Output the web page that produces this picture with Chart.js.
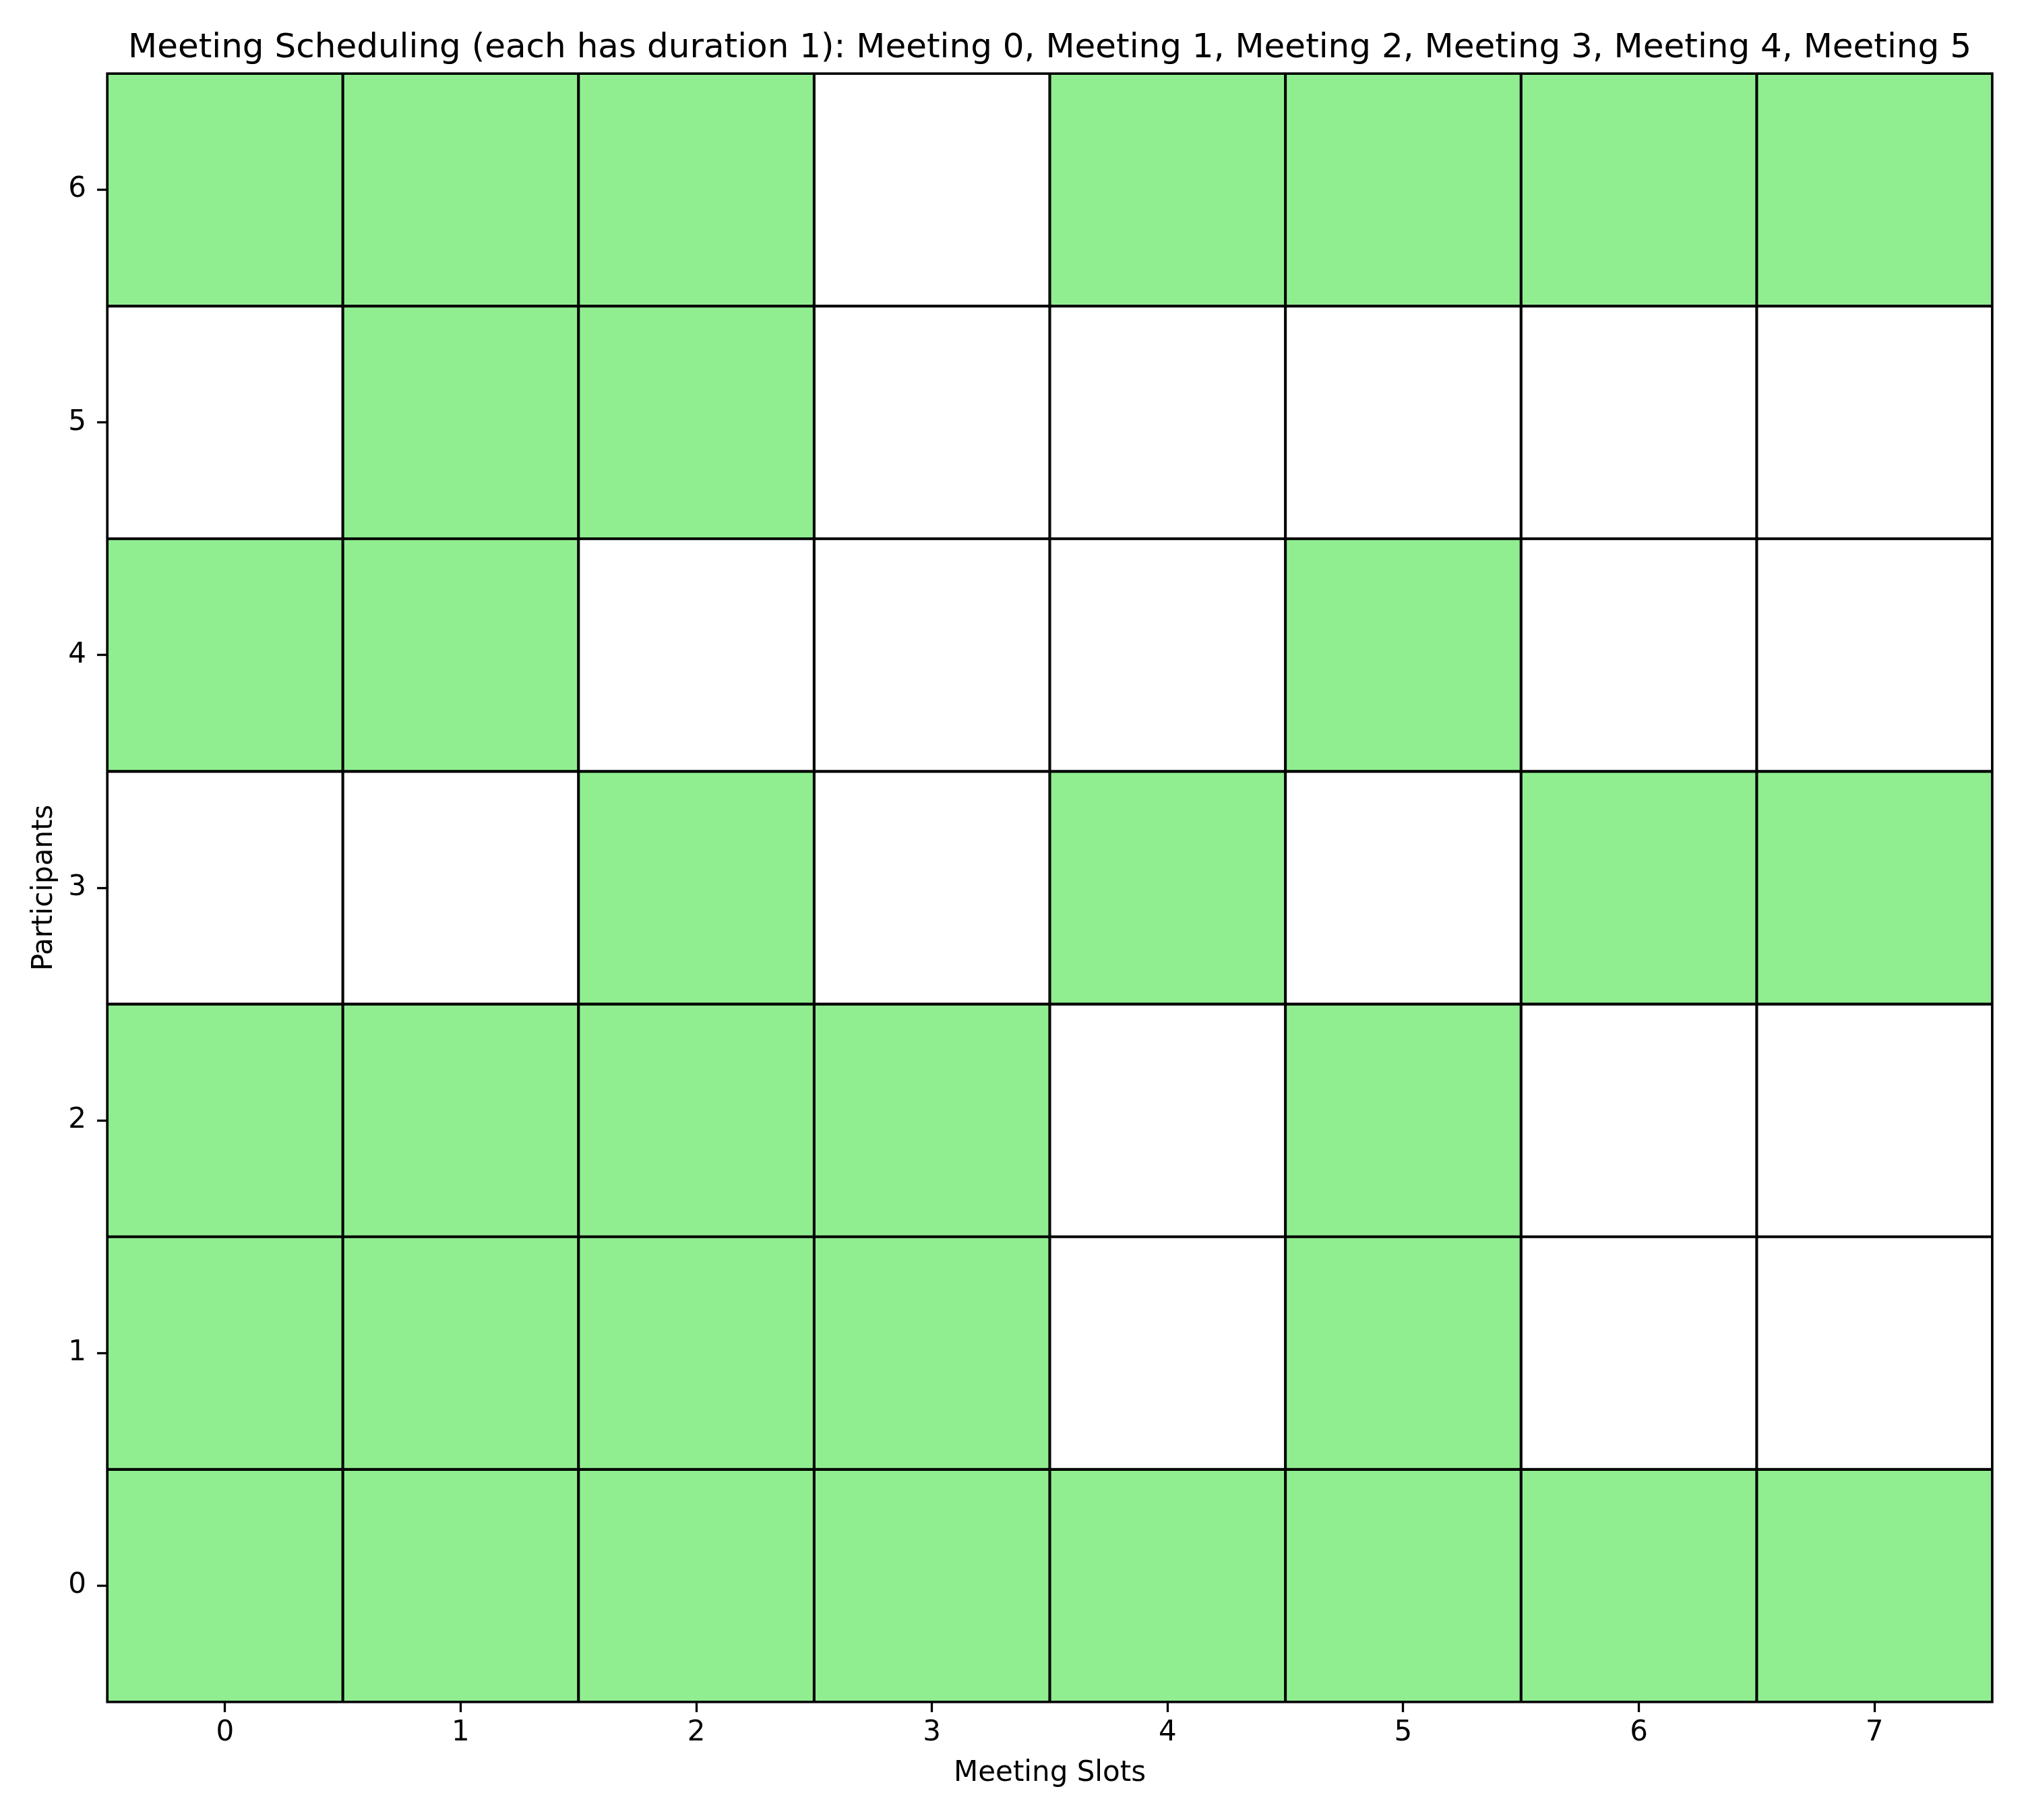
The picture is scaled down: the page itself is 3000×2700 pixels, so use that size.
<!DOCTYPE html>
<html>
<head>
<meta charset="utf-8">
<script src="https://cdn.jsdelivr.net/npm/chart.js@4.4.1/dist/chart.umd.min.js"></script>
<style>
  html, body { margin: 0; padding: 0; background: #ffffff; }
  #wrap { width: 3000px; height: 2700px; }
</style>
</head>
<body>
<div id="wrap"><canvas id="c" width="3000" height="2700"></canvas></div>
<script>
// ---- data ----
const slotLabels = ['0', '1', '2', '3', '4', '5', '6', '7'];
const participantTicks = [0, 1, 2, 3, 4, 5, 6];
// 1 = slot available (green), 0 = not available (white); one array per participant
const participant0 = [1, 1, 1, 1, 1, 1, 1, 1];
const participant1 = [1, 1, 1, 1, 0, 1, 0, 0];
const participant2 = [1, 1, 1, 1, 0, 1, 0, 0];
const participant3 = [0, 0, 1, 0, 1, 0, 1, 1];
const participant4 = [1, 1, 0, 0, 0, 1, 0, 0];
const participant5 = [0, 1, 1, 0, 0, 0, 0, 0];
const participant6 = [1, 1, 1, 0, 1, 1, 1, 1];
const availability = [participant0, participant1, participant2, participant3, participant4, participant5, participant6];
const titleText = 'Meeting Scheduling (each has duration 1): Meeting 0, Meeting 1, Meeting 2, Meeting 3, Meeting 4, Meeting 5';

// ---- style ----
const GREEN = '#90EE90';
const WHITE = '#FFFFFF';
const FONT = "'DejaVu Sans', sans-serif";
Chart.defaults.font.family = FONT;
Chart.defaults.color = '#000000';

const datasets = participantTicks.map((p) => ({
  label: 'Participant ' + p,
  data: slotLabels.map(() => [p - 0.5, p + 0.5]),
  backgroundColor: availability[p].map((v) => (v ? GREEN : WHITE)),
  borderColor: '#000000',
  borderWidth: 2.4,
  borderSkipped: false,
  barPercentage: 1.0,
  categoryPercentage: 1.0,
  grouped: false
}));

const framePlugin = {
  id: 'frame',
  afterDatasetsDraw(chart) {
    const a = chart.chartArea;
    const ctx = chart.ctx;
    ctx.save();
    ctx.strokeStyle = '#000000';
    ctx.lineWidth = 3.3;
    ctx.strokeRect(a.left, a.top, a.right - a.left, a.bottom - a.top);
    ctx.restore();
  }
};

new Chart(document.getElementById('c'), {
  type: 'bar',
  data: { labels: slotLabels, datasets },
  plugins: [framePlugin],
  options: {
    responsive: false,
    devicePixelRatio: 1,
    animation: false,
    events: [],
    layout: { padding: { left: 37, right: 44, top: 31, bottom: 40 } },
    plugins: {
      legend: { display: false },
      tooltip: { enabled: false },
      title: {
        display: true,
        fullSize: false,
        text: titleText,
        color: '#000000',
        font: { size: 50, weight: 'normal', family: FONT },
        padding: { top: 11, bottom: 7 }
      }
    },
    scales: {
      x: {
        type: 'category',
        offset: true,
        afterFit: (scale) => { scale.height = 135; },
        grid: {
          display: true,
          offset: false,
          drawOnChartArea: false,
          drawTicks: true,
          tickLength: 15,
          tickWidth: 3.3,
          tickColor: '#000000'
        },
        border: { display: false },
        ticks: { color: '#000000', font: { size: 42 }, padding: 6, maxRotation: 0 },
        title: { display: true, text: 'Meeting Slots', color: '#000000', font: { size: 42 }, padding: { top: 9, bottom: 4 } }
      },
      y: {
        type: 'linear',
        min: -0.5,
        max: 6.5,
        afterFit: (scale) => { scale.width = 122; },
        afterBuildTicks: (scale) => { scale.ticks = participantTicks.map((v) => ({ value: v })); },
        grid: {
          display: true,
          drawOnChartArea: false,
          drawTicks: true,
          tickLength: 15,
          tickWidth: 3.3,
          tickColor: '#000000'
        },
        border: { display: false },
        ticks: { color: '#000000', font: { size: 42 }, padding: 16 },
        title: { display: true, text: 'Participants', color: '#000000', font: { size: 42 }, padding: { top: 4, bottom: 4 } }
      }
    }
  }
});
</script>
</body>
</html>
